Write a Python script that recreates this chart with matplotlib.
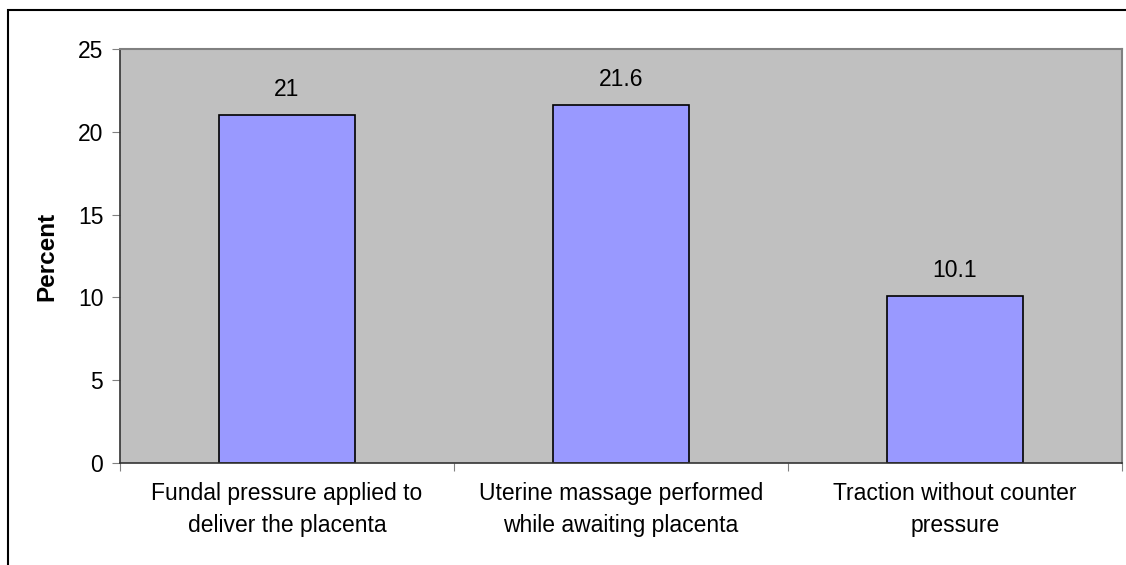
import matplotlib
matplotlib.use('agg')
import matplotlib.pyplot as plt
from matplotlib.patches import Rectangle

categories = ["Fundal pressure applied to\ndeliver the placenta",
              "Uterine massage performed\nwhile awaiting placenta",
              "Traction without counter\npressure"]
values = [21, 21.6, 10.1]
value_labels = ["21", "21.6", "10.1"]
yticks = [0, 5, 10, 15, 20, 25]

plt.rcParams['font.family'] = ['Liberation Sans', 'DejaVu Sans']
FS = 16.5

fig = plt.figure(figsize=(11.26, 5.65), dpi=100)
ax = fig.add_axes([120 / 1126, 1 - 463 / 565, 1002 / 1126, 414 / 565])

# outer chart border (left + top only visible)
fig.add_artist(Rectangle((8 / 1126, -0.1), 1.2, (565 - 10) / 565 + 0.1,
                         transform=fig.transFigure, fill=False,
                         edgecolor='black', linewidth=1.5))

ax.set_facecolor('#C0C0C0')
x = range(len(values))
bars = ax.bar(x, values, width=0.407, color='#9999FF', edgecolor='black', linewidth=1.2)

for b, lab in zip(bars, value_labels):
    ax.annotate(lab, (b.get_x() + b.get_width() / 2, b.get_height()),
                xytext=(0, 10), textcoords='offset points',
                ha='center', va='bottom', fontsize=FS)

ax.set_xlim(-0.5, 2.5)
ax.set_ylim(0, 25)
ax.set_yticks(yticks)
ax.set_yticklabels([str(t) for t in yticks], fontsize=FS)
ax.set_xticks([-0.5, 0.5, 1.5, 2.5])
ax.set_xticklabels([])
ax.set_xticks(list(x), minor=True)
ax.set_xticklabels(categories, minor=True, fontsize=FS, linespacing=1.45)
ax.tick_params(axis='x', which='minor', length=0, pad=14)
ax.tick_params(axis='x', which='major', length=6, color='#808080')
ax.tick_params(axis='y', length=6, color='#808080', pad=6)

ax.set_ylabel("Percent", fontsize=17.5, fontweight='bold', labelpad=14)

for s in ['top', 'right']:
    ax.spines[s].set_color('#808080')
    ax.spines[s].set_linewidth(1.5)
for s in ['left', 'bottom']:
    ax.spines[s].set_color('#333333')
    ax.spines[s].set_linewidth(1.2)

fig.savefig('out.png', dpi=100)
